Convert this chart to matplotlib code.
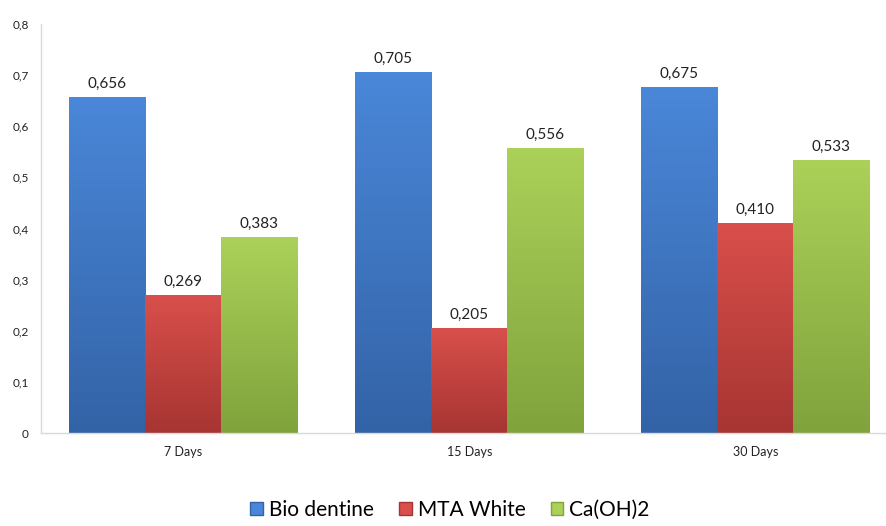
import numpy as np
import matplotlib
matplotlib.use("Agg")
import matplotlib.pyplot as plt
from matplotlib.colors import LinearSegmentedColormap
from matplotlib.patches import Patch

categories = ['7 Days', '15 Days', '30 Days']
series = ['Bio dentine', 'MTA White', 'Ca(OH)2']
bio = [0.656, 0.705, 0.675]
mta = [0.269, 0.205, 0.410]
caoh = [0.383, 0.556, 0.533]
yticks = [0, 0.1, 0.2, 0.3, 0.4, 0.5, 0.6, 0.7, 0.8]

# top colour, bottom colour for the gradient fill
shades = [('#4a87d8', '#3363a7'), ('#d84f4b', '#a73532'), ('#abd159', '#80a33c')]

plt.rcParams['font.family'] = ['Lato', 'DejaVu Sans']
fig = plt.figure(figsize=(8.86, 5.26), dpi=100)
ax = fig.add_axes([0.0463, 0.1768, 0.9537, 0.7776])

x = np.arange(len(categories))
w = 0.266
for k, vals in enumerate([bio, mta, caoh]):
    cmap = LinearSegmentedColormap.from_list('g%d' % k, [shades[k][1], shades[k][0]])
    grad = np.linspace(0, 1, 100).reshape(-1, 1)
    for i, v in enumerate(vals):
        xc = x[i] + (k - 1) * w
        ax.imshow(grad, extent=[xc - w / 2, xc + w / 2, 0, v], origin='lower',
                  cmap=cmap, aspect='auto', zorder=2)
        ax.text(xc, v + 0.013, ('%.3f' % v).replace('.', ','), ha='center', va='bottom',
                fontsize=11, color='#222222')

ax.set_xlim(-0.498, 2.457)
ax.set_ylim(0, 0.8)
ax.set_xticks(x)
ax.set_xticklabels(categories, fontsize=9, color='#222222')
ax.set_yticks(yticks)
ax.set_yticklabels([('%g' % t).replace('.', ',') for t in yticks], fontsize=8.5, color='#222222')
ax.tick_params(length=0)
ax.tick_params(axis='y', pad=9)
ax.tick_params(axis='x', pad=9)
for s in ['top', 'right']:
    ax.spines[s].set_visible(False)
for s in ['left', 'bottom']:
    ax.spines[s].set_color('#d9d9d9')
    ax.spines[s].set_linewidth(1)

handles = [Patch(facecolor=shades[k][0], edgecolor=shades[k][1], label=series[k]) for k in range(3)]
fig.legend(handles=handles, loc='center', bbox_to_anchor=(0.508, 0.03), ncol=3, frameon=False,
           fontsize=15, handlelength=0.6, handleheight=0.6, handletextpad=0.3, columnspacing=1.2,
           borderpad=0.1)

fig.savefig('out.png', dpi=100)
